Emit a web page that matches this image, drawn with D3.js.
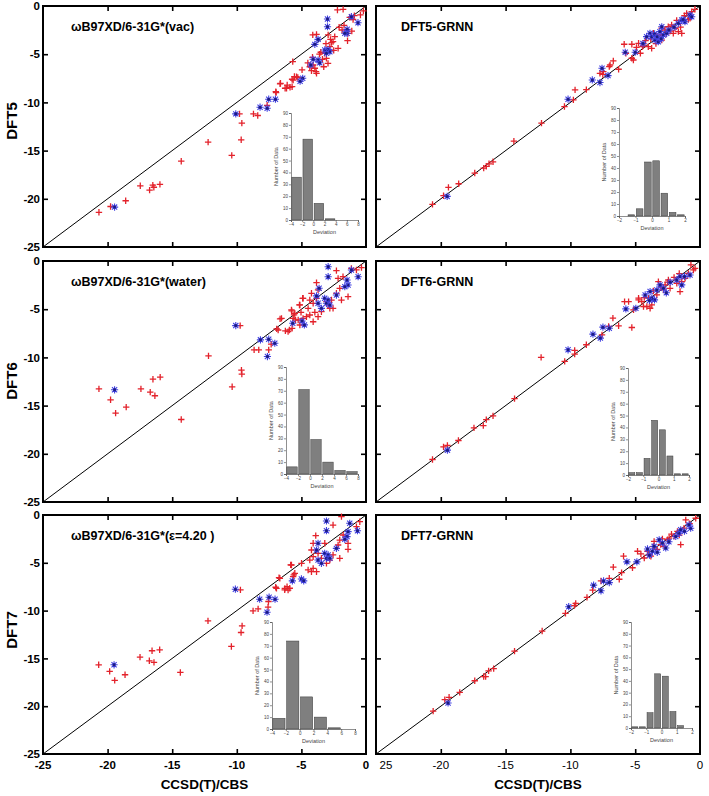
<!DOCTYPE html>
<html><head><meta charset="utf-8">
<script src="https://cdn.jsdelivr.net/npm/d3@7"></script>
<style>body{margin:0;background:#fff}svg{display:block;font-family:"Liberation Sans",Arial,sans-serif}</style>
</head><body><svg id="c" width="709" height="796"></svg>
<script>
// ---------------- DATA ----------------
const leftTitles = ["ωB97XD/6-31G*(vac)", "ωB97XD/6-31G*(water)", "ωB97XD/6-31G*(ε=4.20 )"];
const rightTitles = ["DFT5-GRNN", "DFT6-GRNN", "DFT7-GRNN"];
const rowLabels = ["DFT5", "DFT6", "DFT7"];
const xTitle = "CCSD(T)/CBS";
const mainTicks = [-25, -20, -15, -10, -5, 0];
const leftXTickLabels = ["-25", "-20", "-15", "-10", "-5", "0"];
const rightXTickLabels = ["25", "-20", "-15", "-10", "-5", "0"];
const yTickLabels = ["-25", "-20", "-15", "-10", "-5", "0"];

// Left panels: raw DFT vs CCSD(T)/CBS  [x, y]
const L1red = [[-20.67,-21.4],[-19.77,-20.8],[-18.6,-20.2],[-17.47,-18.65],[-16.75,-19.1],[-16.5,-18.58],[-16.42,-18.8],[-15.95,-18.5],[-14.3,-16.1],[-12.22,-14.12],[-10.39,-15.5],[-9.79,-11.19],[-9.61,-12.15],[-9.66,-13.88],[-8.71,-11.19],[-8.38,-11.36],[-7.65,-10.3],[-6.96,-8.98],[-6.65,-8.08],[-6.26,-8.53],[-6.1,-8.2],[-5.88,-8.43],[-5.72,-7.6],[-5.54,-7.32],[-5.67,-5.77],[-5.28,-7.42],[-4.95,-6.63],[-5.38,-7.33],[-5.64,-7.68],[-5.72,-8.37],[-6.15,-8.54],[-6.62,-8.02],[-6.98,-8.89],[-4.14,-5.32],[-4.09,-6.12],[-4.35,-6.3],[-3.96,-6.46],[-4.22,-6.71],[-3.83,-6.98],[-3.37,-5.53],[-3.06,-5.43],[-2.94,-5.95],[-3.27,-6.3],[-3.83,-2.94],[-2.93,-3.0],[-2.75,-3.46],[-2.67,-3.8],[-2.8,-4.22],[-2.55,-3.7],[-2.42,-3.18],[-1.43,-3.6],[-1.39,-2.83],[-2.16,-4.39],[-2.08,-2.21],[-1.85,-2.49],[-1.26,-1.17],[-0.43,-0.93],[-2.21,-0.41],[-1.77,-0.35],[-0.2,-0.5],[-1.0,-1.4],[-3.5,-4.8],[-3.2,-4.9],[-4.5,-5.9],[-3.6,-5.0],[-2.5,-4.6],[-1.7,-2.0],[-0.9,-1.0],[-1.1,-2.6],[-3.1,-3.9],[-4.12,-3.0],[-3.87,-6.8]];
const L1blue = [[-19.46,-20.86],[-10.08,-11.19],[-8.2,-10.5],[-7.65,-10.6],[-7.53,-9.67],[-7.01,-9.67],[-4.9,-7.5],[-5.1,-7.8],[-2.98,-1.35],[-2.98,-2.15],[-1.13,-1.11],[-0.62,-1.73],[-1.46,-2.42],[-1.46,-2.83],[-1.64,-2.83],[-3.71,-3.46],[-3.96,-3.98],[-3.19,-4.56],[-2.94,-4.5],[-2.8,-4.74],[-3.06,-4.91],[-3.71,-5.6],[-3.58,-5.88],[-4.09,-5.53],[-4.27,-6.12]];

const L2red = [[-20.67,-13.26],[-19.77,-14.4],[-19.38,-15.78],[-18.56,-15.16],[-17.42,-13.26],[-16.7,-13.6],[-16.49,-12.26],[-16.34,-13.98],[-15.93,-12.05],[-14.3,-16.44],[-12.19,-9.84],[-10.36,-13.05],[-9.74,-6.7],[-9.61,-11.74],[-9.64,-11.33],[-8.66,-9.22],[-8.3,-9.22],[-7.53,-9.22],[-7.34,-8.63],[-6.91,-7.04],[-6.65,-6.0],[-6.24,-7.25],[-5.93,-7.15],[-5.72,-6.98],[-5.75,-5.18],[-5.57,-5.59],[-5.46,-6.11],[-5.15,-4.56],[-5.03,-5.32],[-4.9,-3.87],[-4.22,-3.35],[-3.83,-3.87],[-4.35,-4.05],[-4.09,-4.39],[-4.87,-3.87],[-5.12,-4.56],[-4.48,-4.91],[-4.61,-5.78],[-4.35,-5.6],[-3.96,-5.32],[-3.71,-5.78],[-4.09,-6.3],[-3.45,-5.26],[-3.06,-4.22],[-2.67,-4.05],[-2.93,-4.56],[-2.8,-4.91],[-5.77,-5.08],[-5.51,-5.43],[-5.64,-5.95],[-5.25,-6.12],[-4.87,-5.95],[-5.12,-6.64],[-6.03,-7.33],[-6.54,-5.95],[-6.8,-7.16],[-1.39,-3.7],[-2.03,-2.83],[-2.29,-3.35],[-3.83,-2.25],[-3.71,-3.0],[-2.29,-1.0],[-1.78,-1.63],[-1.13,-0.76],[-0.74,-0.93],[-0.35,-0.69],[-2.16,-1.8],[-2.55,-4.91],[-1.9,-4.05]];
const L2blue = [[-19.46,-13.36],[-10.08,-6.7],[-8.17,-8.18],[-7.53,-8.11],[-7.06,-8.53],[-7.63,-9.91],[-5.67,-6.46],[-4.95,-6.22],[-4.77,-6.63],[-2.93,-0.59],[-2.93,-1.63],[-1.13,-0.93],[-0.61,-1.63],[-1.47,-1.97],[-1.39,-2.49],[-1.64,-2.66],[-3.63,-2.83],[-3.83,-3.62],[-3.2,-3.87],[-2.93,-4.05],[-3.06,-4.39],[-2.8,-4.56],[-3.71,-4.39],[-3.45,-4.91],[-2.29,-3.53]];

const L3red = [[-20.69,-15.67],[-19.84,-16.36],[-19.45,-17.3],[-18.65,-16.71],[-17.49,-14.87],[-16.77,-15.25],[-16.56,-14.2],[-16.41,-15.42],[-15.97,-14.1],[-14.37,-16.47],[-12.23,-11.07],[-10.42,-13.75],[-9.72,-7.83],[-9.59,-11.6],[-9.67,-12.29],[-8.74,-10.03],[-8.35,-9.82],[-7.58,-9.64],[-7.55,-9.05],[-6.99,-7.56],[-6.73,-6.55],[-6.29,-7.83],[-6.11,-7.49],[-5.9,-7.66],[-5.83,-5.22],[-5.59,-6.27],[-3.89,-2.16],[-2.55,-1.05],[-1.9,-0.17],[-1.77,-2.09],[-2.03,-2.62],[-2.16,-3.14],[-1.39,-3.59],[-4.09,-2.96],[-4.22,-3.66],[-3.71,-4.01],[-4.09,-4.36],[-3.45,-4.53],[-4.35,-4.71],[-3.06,-5.05],[-2.8,-4.71],[-2.55,-4.18],[-5.77,-5.23],[-4.99,-5.05],[-4.48,-5.75],[-4.22,-5.93],[-3.83,-5.93],[-4.09,-5.58],[-5.51,-6.1],[-5.64,-6.45],[-6.28,-7.67],[-6.03,-7.85],[-6.67,-6.62],[-6.93,-7.67],[-3.19,-2.96],[-2.03,-4.53],[-1.39,-2.96],[-0.48,-0.7],[-0.74,-1.22]];
const L3blue = [[-19.5,-15.67],[-10.11,-7.76],[-8.23,-8.81],[-7.5,-8.6],[-7.04,-8.81],[-7.66,-10.17],[-5.7,-6.89],[-5.0,-6.69],[-4.82,-6.89],[-3.06,-0.63],[-3.06,-1.64],[-1.26,-0.87],[-0.66,-1.64],[-1.39,-1.74],[-1.47,-2.26],[-1.64,-2.54],[-3.71,-2.96],[-3.83,-3.66],[-3.2,-4.01],[-2.93,-4.18],[-3.06,-4.53],[-2.8,-4.53],[-3.71,-4.71],[-3.45,-5.05],[-2.29,-3.49]];

// Right panels: GRNN-corrected DFT vs CCSD(T)/CBS
const R1red = [[-20.64,-20.58],[-19.79,-19.68],[-19.41,-18.82],[-18.62,-18.44],[-17.38,-17.33],[-16.69,-16.82],[-16.49,-16.64],[-16.28,-16.37],[-15.97,-16.16],[-14.36,-14.02],[-12.23,-12.15],[-10.46,-10.43],[-9.77,-9.74],[-9.64,-8.7],[-8.77,-8.67],[-7.72,-6.98],[-7.5,-7.1],[-7.0,-6.28],[-6.69,-5.7],[-6.28,-6.56],[-5.85,-3.97],[-5.26,-3.97],[-4.74,-3.87],[-5.72,-4.9],[-5.26,-5.42],[-4.44,-4.21],[-4.37,-4.05],[-3.99,-4.22],[-3.73,-4.39],[-6.94,-6.12],[-7.46,-6.81],[-5.14,-5.6],[-3.34,-3.18],[-2.95,-3.53],[-3.6,-2.83],[-2.45,-2.15],[-2.19,-1.97],[-1.93,-2.31],[-1.67,-2.66],[-1.41,-2.83],[-2.95,-2.31],[-2.7,-2.49],[-1.03,-0.76],[-0.64,-0.59],[-0.39,-0.34],[-0.77,-1.28],[-2.06,-2.83],[-4.9,-4.3],[-4.6,-4.9],[-3.4,-3.9],[-3.0,-3.0],[-2.6,-2.9],[-2.3,-2.6],[-1.8,-1.5],[-1.5,-2.2],[-1.2,-1.0],[-3.8,-3.4],[-4.2,-3.6],[-0.9,-1.4]];
const R1blue = [[-19.51,-19.75],[-10.18,-9.67],[-8.31,-7.67],[-7.72,-7.94],[-7.56,-6.46],[-7.1,-7.22],[-5.77,-4.8],[-5.0,-4.8],[-3.86,-2.83],[-3.47,-3.53],[-3.22,-3.7],[-3.09,-2.66],[-2.95,-2.15],[-2.82,-3.01],[-2.57,-2.83],[-3.73,-3.18],[-4.12,-3.18],[-1.67,-1.8],[-1.41,-1.45],[-1.16,-1.63],[-0.77,-0.93],[-0.64,-1.11],[-3.5,-2.9],[-3.3,-3.2],[-2.4,-2.5],[-2.0,-2.2],[-1.3,-1.4],[-4.4,-3.9],[-3.0,-3.4]];

const R2red = [[-20.64,-20.59],[-19.79,-19.28],[-19.49,-19.14],[-18.64,-18.62],[-17.44,-17.31],[-16.72,-17.07],[-16.49,-16.45],[-15.97,-16.07],[-14.31,-14.28],[-12.26,-10.0],[-10.44,-10.41],[-9.67,-9.28],[-9.67,-9.66],[-8.77,-8.69],[-7.56,-7.66],[-7.05,-6.79],[-6.72,-5.93],[-6.28,-6.72],[-5.82,-4.21],[-5.26,-6.9],[-4.74,-3.86],[-4.49,-4.21],[-5.13,-5.07],[-4.1,-4.72],[-3.72,-4.55],[-3.21,-2.14],[-2.44,-1.97],[-1.41,-2.14],[-0.51,-0.93],[-4.74,-4.03],[-3.97,-3.86],[-3.33,-3.52],[-2.82,-3.0],[-2.69,-2.48],[-2.31,-2.83],[-1.79,-2.31],[-1.54,-3.17],[-1.15,-1.79],[-0.9,-1.28],[-0.38,-0.76],[-4.36,-4.72],[-5.51,-4.21],[-3.85,-4.9],[-3.0,-2.7],[-2.5,-2.2],[-2.0,-1.7],[-1.6,-1.3],[-0.7,-0.4],[-3.6,-3.1],[-4.3,-3.8]];
const R2blue = [[-19.49,-19.62],[-10.18,-9.21],[-8.26,-7.59],[-7.69,-8.0],[-7.49,-6.86],[-7.0,-6.97],[-5.72,-4.97],[-4.95,-4.9],[-4.23,-3.52],[-3.85,-3.17],[-3.51,-4.03],[-3.33,-3.0],[-3.08,-2.48],[-2.82,-2.83],[-1.79,-1.97],[-1.54,-1.62],[-0.77,-1.45],[-1.41,-2.48],[-3.72,-3.86],[-2.6,-3.3],[-3.9,-4.1],[-1.2,-1.6],[-2.3,-2.2]];

const R3red = [[-20.59,-20.52],[-19.69,-19.31],[-19.36,-19.07],[-18.54,-18.55],[-17.38,-17.34],[-16.69,-16.9],[-16.54,-16.9],[-16.31,-16.31],[-15.92,-16.07],[-14.31,-14.24],[-12.18,-12.14],[-10.38,-10.28],[-9.69,-9.48],[-9.59,-9.24],[-8.72,-8.62],[-8.28,-7.86],[-7.64,-6.9],[-7.0,-6.62],[-6.69,-5.45],[-6.23,-6.72],[-5.9,-4.31],[-6.05,-6.03],[-5.21,-5.52],[-4.56,-4.07],[-3.79,-4.31],[-2.77,-3.28],[-2.38,-2.41],[-1.49,-3.1],[-1.1,-0.52],[-0.33,-0.34],[-4.05,-3.79],[-3.54,-2.76],[-3.03,-3.1],[-2.51,-2.59],[-2.0,-2.24],[-1.74,-1.72],[-1.23,-1.38],[-4.82,-3.79],[-3.92,-4.14],[-3.3,-3.6],[-2.9,-2.5],[-2.2,-2.0],[-1.6,-2.1],[-0.8,-0.9],[-4.3,-4.5],[-3.6,-3.3]];
const R3blue = [[-19.44,-19.66],[-10.13,-9.59],[-8.21,-7.34],[-7.64,-7.93],[-7.44,-6.9],[-7.0,-7.07],[-5.64,-4.9],[-4.87,-4.9],[-4.05,-3.55],[-3.67,-3.79],[-3.15,-2.59],[-2.9,-2.93],[-2.64,-3.45],[-1.62,-1.9],[-1.49,-1.55],[-0.72,-1.38],[-0.85,-1.03],[-3.54,-3.28],[-1.87,-2.24],[-3.9,-4.2],[-3.3,-3.9],[-2.4,-2.8],[-1.2,-1.7]];

// Histogram insets (Deviation bins / Number of Data)
const leftBinStarts = [-4, -2, 0, 2, 4, 6];
const rightBinStarts = [-2, -1.5, -1, -0.5, 0, 0.5, 1, 1.5];
const HL1 = [36, 68, 14, 1, 0, 0];
const HL2 = [6, 71, 29, 10, 3, 2];
const HL3 = [9, 74, 27, 10, 1, 0];
const HR1 = [0, 1, 6, 45, 46, 19, 3, 1];
const HR2 = [2, 2, 14, 46, 38, 16, 1, 1];
const HR3 = [1, 1, 13, 46, 44, 14, 2, 0];
const leftHistTicks = [-4, -2, 0, 2, 4, 6, 8];
const rightHistTicks = [-2, -1, 0, 1, 2];
const histYTicks = [0, 10, 20, 30, 40, 50, 60, 70, 80, 90];

// ---------------- LAYOUT ----------------
const svg = d3.select("#c");
const rows = [{top: 6, bot: 247}, {top: 261, bot: 502}, {top: 515, bot: 754}];
const cols = [{l: 43, r: 366}, {l: 376, r: 700}];
const titleCenters = [121, 381, 630];
const insets = [
  [{x0: 291, x1: 358, t: 113, b: 220}, {x0: 619, x1: 685, t: 108, b: 216}],
  [{x0: 286, x1: 358, t: 367, b: 474}, {x0: 628, x1: 689, t: 368, b: 475}],
  [{x0: 272, x1: 355, t: 622, b: 729}, {x0: 631, x1: 692, t: 622, b: 728}]
];
const panelData = [
  [{red: L1red, blue: L1blue, hist: HL1}, {red: R1red, blue: R1blue, hist: HR1}],
  [{red: L2red, blue: L2blue, hist: HL2}, {red: R2red, blue: R2blue, hist: HR2}],
  [{red: L3red, blue: L3blue, hist: HL3}, {red: R3red, blue: R3blue, hist: HR3}]
];

const RED = "#e3222b", BLUE = "#4040e0", BLUEC = "#1c1c80";

function drawPanel(ri, ci) {
  const row = rows[ri], col = cols[ci], d = panelData[ri][ci];
  const x = d3.scaleLinear().domain([-25, 0]).range([col.l, col.r]);
  const y = d3.scaleLinear().domain([-25, 0]).range([row.bot, row.top]);
  const g = svg.append("g");
  const inner = [-20, -15, -10, -5];
  const tk = 5;
  [[d3.axisBottom(x), `translate(0,${row.bot})`], [d3.axisTop(x), `translate(0,${row.top})`],
   [d3.axisLeft(y), `translate(${col.l},0)`], [d3.axisRight(y), `translate(${col.r},0)`]].forEach(([ax, tr]) => {
    const a = g.append("g").attr("transform", tr)
      .call(ax.tickValues(inner).tickSize(-tk).tickFormat(""));
    a.select(".domain").remove();
    a.selectAll("line").attr("stroke", "#000").attr("stroke-width", 1.6);
  });
  g.append("line").attr("x1", x(-25)).attr("y1", y(-25)).attr("x2", x(0)).attr("y2", y(0))
    .attr("stroke", "#000").attr("stroke-width", 1);
  g.append("rect").attr("x", col.l).attr("y", row.top).attr("width", col.r - col.l).attr("height", row.bot - row.top)
    .attr("fill", "none").attr("stroke", "#000").attr("stroke-width", 2);
  g.append("g").selectAll("path").data(d.red).join("path")
    .attr("transform", p => `translate(${x(p[0])},${y(p[1])})`)
    .attr("d", "M-3.2,0H3.2M0,-3.2V3.2").attr("stroke", RED).attr("stroke-width", 1.3).attr("fill", "none");
  const bg = g.append("g").selectAll("g").data(d.blue).join("g")
    .attr("transform", p => `translate(${x(p[0])},${y(p[1])})`);
  bg.append("path").attr("d", "M-3.6,0H3.6M0,-3.6V3.6M-2.6,-2.6L2.6,2.6M-2.6,2.6L2.6,-2.6")
    .attr("stroke", BLUE).attr("stroke-width", 1.1).attr("fill", "none");
  bg.append("circle").attr("r", 1.5).attr("fill", BLUEC);
  const title = ci === 0 ? leftTitles[ri] : rightTitles[ri];
  g.append("text").attr("x", col.l + (ci === 0 ? 28 : 25)).attr("y", row.top + 25)
    .attr("font-size", 12.5).attr("font-weight", "bold").text(title);
  if (ci === 0) {
    g.append("g").selectAll("text").data(mainTicks).join("text")
      .attr("x", col.l - 3).attr("y", v => y(v)).attr("dy", "0.36em")
      .attr("text-anchor", "end").attr("font-size", 11.5).attr("font-weight", "bold")
      .text((v, i) => yTickLabels[i]);
    svg.append("text").attr("transform", `translate(17,${titleCenters[ri]}) rotate(-90)`)
      .attr("text-anchor", "middle").attr("font-size", 15).attr("font-weight", "bold").text(rowLabels[ri]);
  }
  if (ri === 2) {
    const labs = ci === 0 ? leftXTickLabels : rightXTickLabels;
    g.append("g").selectAll("text").data(mainTicks).join("text")
      .attr("x", (v, i) => x(v) + (ci === 1 && i === 0 ? 10 : 0)).attr("y", row.bot + 15)
      .attr("text-anchor", "middle").attr("font-size", 11.5)
      .attr("font-weight", ci === 0 ? "bold" : "normal").text((v, i) => labs[i]);
    svg.append("text").attr("x", (col.l + col.r) / 2).attr("y", 789)
      .attr("text-anchor", "middle").attr("font-size", 13.5).attr("font-weight", "bold").text(xTitle);
  }
  drawInset(ri, ci, d.hist);
}

function drawInset(ri, ci, counts) {
  const ins = insets[ri][ci];
  const starts = ci === 0 ? leftBinStarts : rightBinStarts;
  const w = ci === 0 ? 2 : 0.5;
  const xt = ci === 0 ? leftHistTicks : rightHistTicks;
  const hx = d3.scaleLinear().domain([xt[0], xt[xt.length - 1]]).range([ins.x0, ins.x1]);
  const hy = d3.scaleLinear().domain([0, 90]).range([ins.b, ins.t]);
  const g = svg.append("g");
  g.selectAll("rect").data(counts).join("rect")
    .attr("x", (c, i) => hx(starts[i]) + 0.8)
    .attr("width", (c, i) => hx(starts[i] + w) - hx(starts[i]) - 1.6)
    .attr("y", c => hy(c)).attr("height", c => ins.b - hy(c))
    .attr("fill", "#7f7f7f").attr("stroke", "#3a3a3a").attr("stroke-width", 0.5);
  const ay = g.append("g").attr("transform", `translate(${ins.x0},0)`)
    .call(d3.axisLeft(hy).tickValues(histYTicks).tickFormat(d3.format("d")).tickSize(2).tickPadding(1));
  const ax = g.append("g").attr("transform", `translate(0,${ins.b})`)
    .call(d3.axisBottom(hx).tickValues(xt).tickFormat(d3.format("d")).tickSize(2).tickPadding(1));
  [ay, ax].forEach(a => {
    a.selectAll("path,line").attr("stroke", "#444").attr("stroke-width", 0.6);
    a.selectAll("text").attr("font-size", 4.5).attr("fill", "#444").attr("font-family", "Liberation Sans, Arial");
  });
  g.append("text").attr("transform", `translate(${ins.x0 - 13},${(ins.t + ins.b) / 2}) rotate(-90)`)
    .attr("text-anchor", "middle").attr("font-size", 5.5).attr("fill", "#444").text("Number of Data");
  g.append("text").attr("x", (ins.x0 + ins.x1) / 2).attr("y", ins.b + 14)
    .attr("text-anchor", "middle").attr("font-size", 5.5).attr("fill", "#444").text("Deviation");
}

for (let r = 0; r < 3; r++) for (let c = 0; c < 2; c++) drawPanel(r, c);
</script></body></html>
